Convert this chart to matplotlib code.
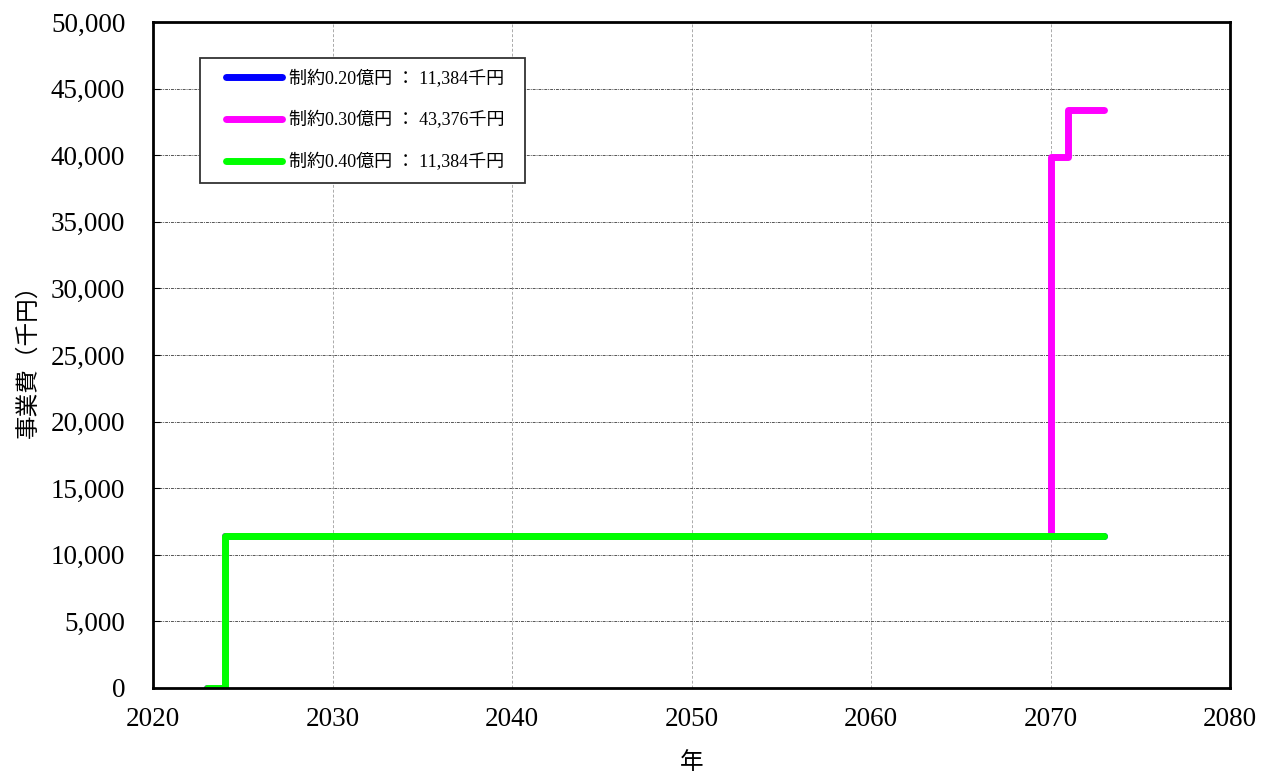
import numpy as np
import matplotlib
matplotlib.use("Agg")
import matplotlib.pyplot as plt
from matplotlib.legend_handler import HandlerLine2D

plt.rcParams['font.family'] = ['Liberation Serif', 'Noto Sans CJK JP']

years = list(range(2023, 2074))
cost_020 = [0] + [11384] * 50
cost_030 = [0] + [11384] * 46 + [39860] + [43376] * 3
cost_040 = [0] + [11384] * 50

labels = ['制約0.20億円 ： 11,384千円  ', '制約0.30億円 ： 43,376千円  ', '制約0.40億円 ： 11,384千円  ']
colors = ['#0000ff', '#ff00ff', '#00ff00']

fig = plt.figure(figsize=(12.67, 7.78), dpi=100)
ax = fig.add_axes([0.1208, 0.1157, 0.85, 0.856])

for vals, lab, col in zip([cost_020, cost_030, cost_040], labels, colors):
    ax.step(years, vals, where='post', color=col, lw=5, label=lab,
            solid_capstyle='round', solid_joinstyle='round')

ax.set_xlim(2020, 2080)
ax.set_ylim(0, 50000)
ax.set_xticks(np.arange(2020, 2081, 10))
ax.set_yticks(np.arange(0, 50001, 5000))
ax.yaxis.set_major_formatter(matplotlib.ticker.FuncFormatter(lambda v, p: f'{int(v):,}'))
ax.tick_params(axis='y', direction='in', labelsize=19.5, length=5, pad=20)
ax.tick_params(axis='x', direction='in', labelsize=19.5, length=0, pad=14)
ax.xaxis.grid(True, color='#aaaaaa', ls=(0, (3, 2)), lw=0.7)
ax.yaxis.grid(True, color='#555555', ls=(0, (3, 1, 1, 1)), lw=0.7)
for s in ax.spines.values():
    s.set_linewidth(2)

ax.set_xlabel('年', fontsize=17, labelpad=14)
ax.set_ylabel('事業費（千円）', fontsize=17, labelpad=8)

hmap = {h: HandlerLine2D(xpad=0.8) for h in ax.get_lines()}
leg = ax.legend(loc='upper left', bbox_to_anchor=(0.0355, 0.96), fontsize=13,
                fancybox=False, edgecolor='#333333', framealpha=1,
                labelspacing=1.3, handlelength=3.9, borderpad=0.65,
                handletextpad=0.35, handler_map=hmap)
leg.get_frame().set_linewidth(1.3)

fig.savefig('out.png', dpi=100)
